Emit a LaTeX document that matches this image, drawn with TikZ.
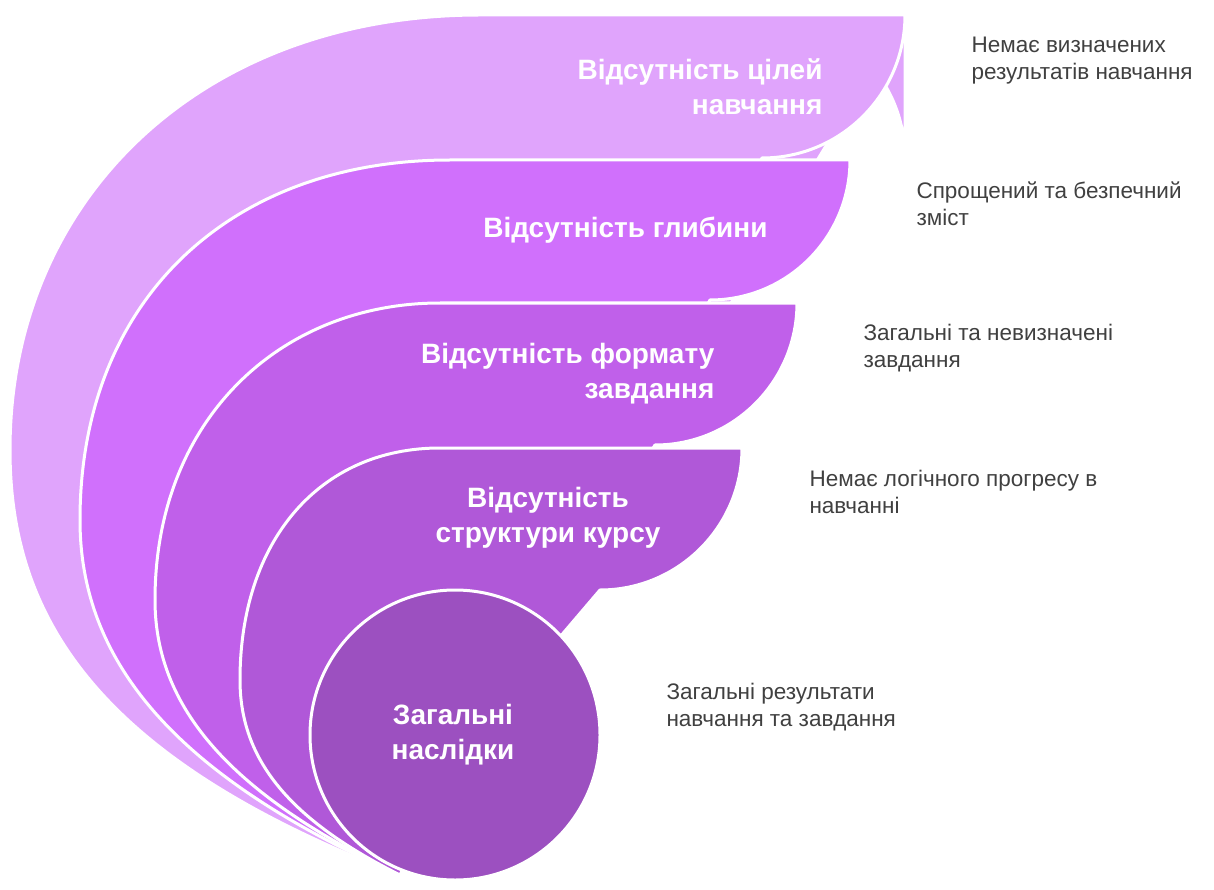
\documentclass[tikz,border=0pt]{standalone}
\usepackage{fontspec}
\setmainfont{Liberation Sans}
\begin{document}
\begin{tikzpicture}[x=1pt,y=-1pt,
  band/.style={draw=white,line width=3pt,line join=round},
  title/.style={text=white,font=\fontsize{28}{35}\selectfont\bfseries},
  desc/.style={text=black!75,font=\fontsize{22.5}{27}\selectfont,align=left,anchor=west}]
\useasboundingbox (0,0) rectangle (1214,890);
\definecolor{c1}{HTML}{E0A4FC}
\definecolor{c2}{HTML}{D070FC}
\definecolor{c3}{HTML}{C060EA}
\definecolor{c4}{HTML}{B058D8}
\definecolor{c5}{HTML}{9C50C0}
% shape 1
\fill[c1,band] (400,875) .. controls (100,760) and (10,620) .. (10,450)
  .. controls (10,200) and (200,15) .. (480,15) -- (762,15)
  arc[start angle=-90,end angle=0,radius=143] -- (905,15) -- (455,760) -- cycle;
% redo shape 1 right end properly
\fill[c1,band] (400,875) .. controls (100,760) and (10,620) .. (10,450)
  .. controls (10,200) and (200,15) .. (480,15) -- (905,15)
  arc[start angle=0,end angle=90,radius=143] -- (455,760) -- cycle;
% shape 2
\fill[c2,band] (400,875) .. controls (160,770) and (80,650) .. (80,520)
  .. controls (80,300) and (230,160) .. (450,160) -- (850,160)
  arc[start angle=0,end angle=90,radius=140] -- (455,760) -- cycle;
% shape 3
\fill[c3,band] (400,875) .. controls (220,790) and (155,700) .. (155,600)
  .. controls (155,420) and (280,303) .. (440,303) -- (797,303)
  arc[start angle=0,end angle=90,radius=142] -- (455,760) -- cycle;
% shape 4
\fill[c4,band] (400,875) .. controls (290,820) and (240,760) .. (240,680)
  .. controls (240,540) and (320,448) .. (440,448) -- (742,448)
  arc[start angle=0,end angle=90,radius=142] -- (455,760) -- cycle;
\node[circle,fill=c5,draw=white,line width=3pt,minimum size=290pt] (c) at (455,735) {};
\node[title,align=right,anchor=east] (t1) at (826,87) {Відсутність цілей\\навчання};
\node[title,anchor=east] (t2) at (771,230) {Відсутність глибини};
\node[title,align=right,anchor=east] (t3) at (718,374) {Відсутність формату\\завдання};
\node[title,align=center] (t4) at (548,518) {Відсутність\\структури курсу};
\node[title,align=center] (t5) at (453,735) {Загальні\\наслідки};
\node[desc] (d1) at (968,61) {Немає визначених\\результатів навчання};
\node[desc] (d2) at (913,204) {Спрощений та безпечний\\зміст};
\node[desc] (d3) at (860,348) {Загальні та невизначені\\завдання};
\node[desc] (d4) at (806,492) {Немає логічного прогресу в\\навчанні};
\node[desc] (d5) at (663,707) {Загальні результати\\навчання та завдання};
\end{tikzpicture}
\end{document}
